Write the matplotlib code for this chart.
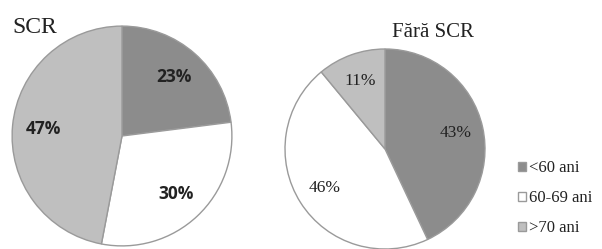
import matplotlib.pyplot as plt

groups = ['<60 ani', '60-69 ani', '>70 ani']
scr = [23, 30, 47]
fara_scr = [43, 46, 11]
colors = ['#8c8c8c', '#ffffff', '#bfbfbf']

fig = plt.figure(figsize=(6.02, 2.49), dpi=100)

# left pie
ax1 = fig.add_axes([11 / 602, 2 / 249, 222 / 602, 222 / 249])
w1, _, t1 = ax1.pie(scr, colors=colors, startangle=90, counterclock=False,
                    autopct='%d%%', pctdistance=0.72,
                    wedgeprops=dict(edgecolor='#9a9a9a', linewidth=1))
for t in t1:
    t.set_fontfamily('Open Sans')
    t.set_fontweight('bold')
    t.set_fontsize(12.5)
    t.set_color('#222222')
ax1.set_xlim(-1.01, 1.01)
ax1.set_ylim(-1.01, 1.01)

# right pie
ax2 = fig.add_axes([284 / 602, -1 / 249, 202 / 602, 202 / 249])
w2, _, t2 = ax2.pie(fara_scr, colors=colors, startangle=90, counterclock=False,
                    autopct='%d%%', pctdistance=0.72,
                    wedgeprops=dict(edgecolor='#9a9a9a', linewidth=1))
for t in t2:
    t.set_fontfamily('Liberation Serif')
    t.set_fontsize(12.5)
    t.set_color('#222222')
ax2.set_xlim(-1.01, 1.01)
ax2.set_ylim(-1.01, 1.01)

fig.text(12 / 602, 1 - 33 / 249, 'SCR', family='Liberation Serif', fontsize=17, color='#222222')
fig.text(392 / 602, 1 - 37 / 249, 'Fără SCR', family='Liberation Serif', fontsize=15, color='#222222')

fig.legend(w2, groups, loc='upper left', bbox_to_anchor=(513 / 602, 1 - 155 / 249),
           frameon=False, prop={'family': 'Liberation Serif', 'size': 12},
           handlelength=0.45, handleheight=0.45, handletextpad=0.2, labelspacing=0.85,
           borderaxespad=0, borderpad=0.3, labelcolor='#222222')

plt.savefig('out.png', dpi=100)
